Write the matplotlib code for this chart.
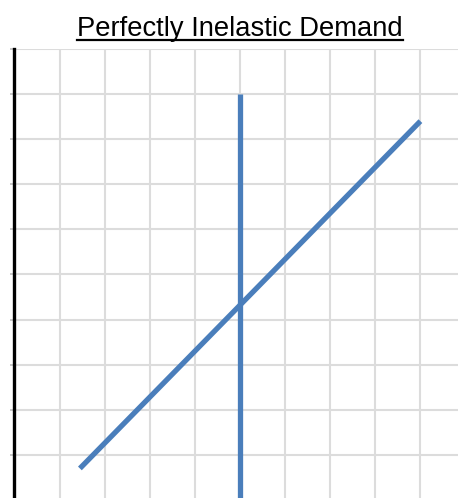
import matplotlib
matplotlib.use("Agg")
import matplotlib.pyplot as plt
from matplotlib.lines import Line2D

# data (grid units)
supply_x = [1.45, 9.0]
supply_y = [0.7, 8.4]
demand_x = [5.0, 5.0]
demand_y = [-1.0, 9.0]
title = "Perfectly Inelastic Demand"

blue = "#4a7ebb"

fig = plt.figure(figsize=(4.58, 4.98), dpi=100)
W, H = 458, 498
ax = fig.add_axes([14.5 / W, -2 / H, 451 / W, 451 / H])
ax.set_xlim(0, 10)
ax.set_ylim(0, 10)

ax.set_xticks(range(1, 11))
ax.set_yticks(range(1, 11))
ax.grid(True, color="#dcdcdc", linewidth=1.5)
ax.set_axisbelow(True)
ax.tick_params(axis="x", length=0, labelbottom=False)
ax.tick_params(axis="y", length=3, width=1.2, color="#bfbfbf", labelleft=False)
for s in ["top", "right", "bottom"]:
    ax.spines[s].set_visible(False)
ax.spines["left"].set_linewidth(2.4)
ax.spines["left"].set_color("black")

ax.plot(demand_x, demand_y, color=blue, linewidth=3.8, solid_capstyle="butt")
ax.plot(supply_x, supply_y, color=blue, linewidth=3.8, solid_capstyle="butt")

# title, sized to roughly the reference width, with an underline
t = fig.text(240 / W, 1 - 36 / H, title, ha="center", va="baseline",
             fontsize=20, family=["Liberation Sans", "DejaVu Sans"])
fig.canvas.draw()
r = fig.canvas.get_renderer()
bb = t.get_window_extent(renderer=r)
t.set_fontsize(20 * 325 / bb.width)
fig.canvas.draw()
bb = t.get_window_extent(renderer=r)
uy = 1 - 40 / H
fig.add_artist(Line2D([bb.x0 / W, bb.x1 / W], [uy, uy], color="black",
                      linewidth=1.6, transform=fig.transFigure))

fig.savefig("out.png", dpi=100)
